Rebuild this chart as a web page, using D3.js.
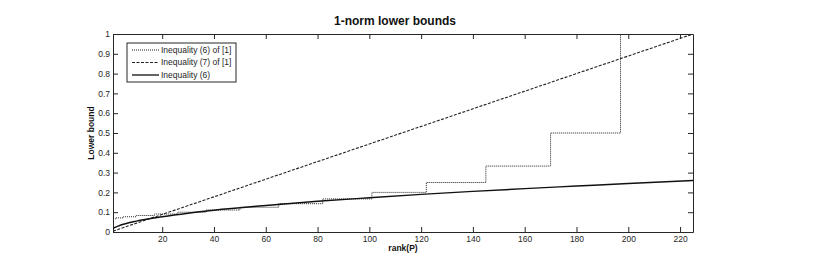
<!DOCTYPE html>
<html>
<head>
<meta charset="utf-8">
<script src="https://cdn.jsdelivr.net/npm/d3@7"></script>
<style>
  body { margin: 0; background: #fff; }
  text { font-family: "Liberation Sans", Arial, sans-serif; }
</style>
</head>
<body>
<div id="chart"></div>
<script>
// Inequality (6) of [1]: staircase, each step starts at a rank
var stepRanks  = [1, 2, 5, 10, 17, 26, 37, 50, 65, 82, 101, 122, 145, 170, 197, 225];
var stepValues = [0.0667, 0.0714, 0.0769, 0.0833, 0.0909, 0.1, 0.111, 0.125, 0.143, 0.167, 0.2, 0.25, 0.333, 0.5, 1, 1];

// Inequality (7) of [1]: straight line
var lineRanks  = [1, 225];
var lineValues = [0.0044, 1];

// Inequality (6): concave curve
var curveRanks  = [1, 2, 3, 5, 10, 20, 30, 40, 60, 80, 100, 120, 140, 160, 180, 200, 225];
var curveValues = [0.017, 0.025, 0.030, 0.039, 0.055, 0.077, 0.095, 0.110, 0.134, 0.155, 0.173, 0.190, 0.205, 0.219, 0.232, 0.245, 0.260];

var xTicks = [20, 40, 60, 80, 100, 120, 140, 160, 180, 200, 220];
var yTicks = [0, 0.1, 0.2, 0.3, 0.4, 0.5, 0.6, 0.7, 0.8, 0.9, 1];
var yTickLabels = ["0", "0.1", "0.2", "0.3", "0.4", "0.5", "0.6", "0.7", "0.8", "0.9", "1"];

var seriesNames = ["Inequality (6) of [1]", "Inequality (7) of [1]", "Inequality (6)"];

var width = 830, height = 275;
var margin = {top: 34, right: 137, bottom: 43, left: 113};
var w = width - margin.left - margin.right,
    h = height - margin.top - margin.bottom;

var svg = d3.select("#chart").append("svg")
    .attr("width", width)
    .attr("height", height);

svg.append("rect").attr("width", width).attr("height", height).attr("fill", "#fff");

var g = svg.append("g")
    .attr("transform", "translate(" + margin.left + "," + margin.top + ")");

var x = d3.scaleLinear().domain([1, 225]).range([0, w]);
var y = d3.scaleLinear().domain([0, 1]).range([h, 0]);

var axisColor = "#262626";

// axes (inward ticks on all four sides, MATLAB box style)
var xAxis = g.append("g")
    .attr("transform", "translate(0," + h + ")")
    .call(d3.axisBottom(x).tickValues(xTicks).tickSize(-5).tickPadding(4).tickSizeOuter(0));
var yAxis = g.append("g")
    .call(d3.axisLeft(y).tickValues(yTicks).tickSize(-5).tickPadding(3).tickSizeOuter(0)
      .tickFormat(function(d, i) { return yTickLabels[i]; }));
var xTop = g.append("g")
    .call(d3.axisTop(x).tickValues(xTicks).tickSize(-5).tickFormat("").tickSizeOuter(0));
var yRight = g.append("g")
    .attr("transform", "translate(" + w + ",0)")
    .call(d3.axisRight(y).tickValues(yTicks).tickSize(-5).tickFormat("").tickSizeOuter(0));

[xAxis, yAxis, xTop, yRight].forEach(function(a) {
  a.selectAll("path, line").attr("stroke", axisColor).attr("stroke-width", 1);
  a.selectAll("text").attr("fill", axisColor).attr("font-size", 8.5)
    .attr("font-family", "'Liberation Sans', Arial, sans-serif");
});

g.append("clipPath").attr("id", "clip")
  .append("rect").attr("width", w).attr("height", h);

var plot = g.append("g").attr("clip-path", "url(#clip)");

var stepLine = d3.line()
    .x(function(d) { return x(d[0]); })
    .y(function(d) { return y(d[1]); })
    .curve(d3.curveStepAfter);

plot.append("path")
    .datum(d3.zip(stepRanks, stepValues))
    .attr("d", stepLine)
    .attr("fill", "none")
    .attr("stroke", "#222")
    .attr("stroke-width", 1)
    .attr("stroke-dasharray", "1,1");

var straight = d3.line()
    .x(function(d) { return x(d[0]); })
    .y(function(d) { return y(d[1]); });

plot.append("path")
    .datum(d3.zip(lineRanks, lineValues))
    .attr("d", straight)
    .attr("fill", "none")
    .attr("stroke", "#222")
    .attr("stroke-width", 1.1)
    .attr("stroke-dasharray", "3,1.5");

var smooth = d3.line()
    .x(function(d) { return x(d[0]); })
    .y(function(d) { return y(d[1]); })
    .curve(d3.curveMonotoneX);

plot.append("path")
    .datum(d3.zip(curveRanks, curveValues))
    .attr("d", smooth)
    .attr("fill", "none")
    .attr("stroke", "#111")
    .attr("stroke-width", 1.4);

// legend
var legend = svg.append("g").attr("transform", "translate(127,43)");
legend.append("rect")
    .attr("width", 109).attr("height", 39)
    .attr("fill", "#fff").attr("stroke", axisColor).attr("stroke-width", 1);

var dashes = ["1,1", "3,1.5", null];
var widths = [1, 1.1, 1.4];
seriesNames.forEach(function(name, i) {
  var ly = 7 + i * 12.5;
  legend.append("line")
      .attr("x1", 5).attr("x2", 32)
      .attr("y1", ly).attr("y2", ly)
      .attr("stroke", "#222")
      .attr("stroke-width", widths[i])
      .attr("stroke-dasharray", dashes[i]);
  legend.append("text")
      .attr("x", 34).attr("y", ly)
      .attr("dy", "0.35em")
      .attr("font-size", 8.5)
      .attr("fill", axisColor)
      .text(name);
});

// title and labels
svg.append("text")
    .attr("x", 395).attr("y", 25)
    .attr("text-anchor", "middle")
    .attr("font-size", 12)
    .attr("font-weight", "bold")
    .attr("fill", "#111")
    .text("1-norm lower bounds");

svg.append("text")
    .attr("x", margin.left + w / 2).attr("y", 251)
    .attr("text-anchor", "middle")
    .attr("font-size", 8.5)
    .attr("font-weight", "bold")
    .attr("fill", "#111")
    .text("rank(P)");

svg.append("text")
    .attr("transform", "translate(94," + (margin.top + h / 2) + ") rotate(-90)")
    .attr("text-anchor", "middle")
    .attr("font-size", 8.5)
    .attr("font-weight", "bold")
    .attr("fill", "#111")
    .text("Lower bound");
</script>
</body>
</html>
